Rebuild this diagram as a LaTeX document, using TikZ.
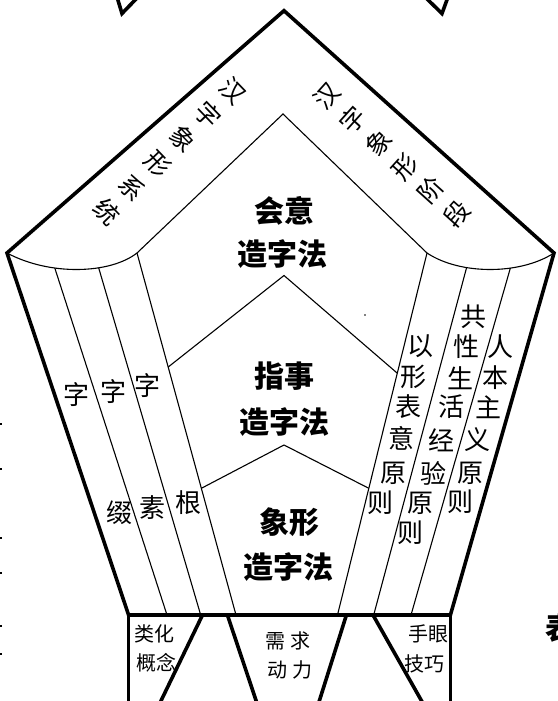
\documentclass[tikz,border=0pt]{standalone}
\usepackage{fontspec}
\newfontfamily\cjk{Noto Sans CJK SC}
\begin{document}
\begin{tikzpicture}[x=1pt,y=-1pt,
  outer/.style={line width=3.6pt, line join=miter},
  inner/.style={line width=1.1pt},
  ctr/.style={font=\cjk\bfseries\fontsize{30}{30}\selectfont, inner sep=0pt},
  colch/.style={font=\cjk\fontsize{26}{26}\selectfont, inner sep=0pt},
  roof/.style={font=\cjk\fontsize{25}{35}\selectfont, inner sep=0pt, align=center},
  boxtxt/.style={font=\cjk\fontsize{20}{20}\selectfont, inner sep=0pt}]
\useasboundingbox (0,0) rectangle (557,701);
\fill[white] (0,0) rectangle (557,701);
\clip (0,0) rectangle (557,701);
% main points
\coordinate (apex) at (284,10.7);
\coordinate (LC) at (7,253);
\coordinate (RC) at (554,253);
\coordinate (BL) at (128.6,615);
\coordinate (BR) at (450.4,615);
\coordinate (IL) at (137,253);
\coordinate (IR) at (427,253);
\coordinate (IA) at (283,114);
\coordinate (MA) at (284,275.5);
\coordinate (NA) at (284,445);
\coordinate (L1b) at (167,615);
\coordinate (L2b) at (200.7,615);
\coordinate (L3b) at (236,615);
\coordinate (R3b) at (337.5,615);
\coordinate (R2b) at (373.7,615);
\coordinate (R1b) at (411,615);
% caps and top chevron
\draw[inner] (LC) .. controls (50,276) and (110,274) .. (IL)
  coordinate[pos=0.34] (L1t) coordinate[pos=0.65] (L2t);
\draw[inner] (IL) -- (IA) -- (IR);
\draw[inner] (IR) .. controls (460,275) and (520,275) .. (RC)
  coordinate[pos=0.33] (R2t) coordinate[pos=0.645] (R1t);
% column lines
\draw[inner] (L1t) -- (L1b);
\draw[inner] (L2t) -- (L2b);
\draw[inner] (IL) -- (L3b);
\draw[inner] (IR) -- (R3b);
\draw[inner] (R2t) -- (R2b);
\draw[inner] (R1t) -- (R1b);
% chevrons
\path (IL) -- (L3b) coordinate[pos=0.315] (M1) coordinate[pos=0.65] (N1);
\path (IR) -- (R3b) coordinate[pos=0.332] (M2) coordinate[pos=0.65] (N2);
\draw[inner] (M1) -- (MA) -- (M2);
\draw[inner] (N1) -- (NA) -- (N2);
% outer pentagon
\draw[outer] (BL) -- (LC) -- (apex) -- (RC) -- (BR) -- cycle;
% bottom boxes
\coordinate (b1l) at (128.6,720);
\coordinate (b1rt) at (202.5,615); \coordinate (b1rb) at (151.7,720);
\coordinate (b2lt) at (227.4,615); \coordinate (b2lb) at (262.6,720);
\coordinate (b2rt) at (346.4,615); \coordinate (b2rb) at (313.3,720);
\coordinate (b3lt) at (373,615); \coordinate (b3lb) at (432.4,720);
\coordinate (b3r) at (450.4,720);
\draw[outer] (BL) -- (b1l);
\draw[outer] (b1rt) -- (b1rb);
\draw[outer] (b2lt) -- (b2lb);
\draw[outer] (b2rt) -- (b2rb);
\draw[outer] (b3lt) -- (b3lb);
\draw[outer] (BR) -- (b3r);
% top marks
\coordinate (tm1) at (122,13.5);
\coordinate (tm2) at (442,13.5);
\draw[outer] (117,-3) -- (tm1) -- (138,-3);
\draw[outer] (425,-3) -- (tm2) -- (448,-3);
% centre labels
\node[ctr] (t1a) at (284,211) {会意};
\node[ctr] (t1b) at (282,254) {造字法};
\node[ctr] (t2a) at (284,376) {指事};
\node[ctr] (t2b) at (284,422) {造字法};
\node[ctr] (t3a) at (289.5,522) {象形};
\node[ctr] (t3b) at (288,567) {造字法};
% roof texts
\node[roof, rotate=-46] (lt) at (170,151.5) {汉\\字\\象\\形\\系\\统};
\node[roof, rotate=48] (rt) at (391.7,155) {汉\\字\\象\\形\\阶\\段};
% left columns
\foreach \c/\x/\y [count=\i] in {字/76/395, 字/113.4/391.6, 字/147.4/386,
  缀/119/513, 素/152.8/508, 根/188/502.6}
  \node[colch] (lc\i) at (\x,\y) {\c};
% right columns
\foreach \c/\x/\y [count=\i] in {以/420/346.7, 形/413/376.7, 表/408/406.7,
  意/401.7/438, 原/393/473, 则/380/503}
  \node[colch] (ra\i) at (\x,\y) {\c};
\foreach \c/\x/\y [count=\i] in {共/473/316.7, 性/466.7/346.7, 生/460/378,
  活/451.7/406.7, 经/441.7/440, 验/433/473, 原/420/503, 则/410/533}
  \node[colch] (rb\i) at (\x,\y) {\c};
\foreach \c/\x/\y [count=\i] in {人/500/347, 本/495/378, 主/488/407,
  义/477/440, 原/470/473, 则/460/502}
  \node[colch] (rc\i) at (\x,\y) {\c};
% box texts
\node[boxtxt] (b1a) at (154.5,634) {类化};
\node[boxtxt] (b1b) at (156.3,662.5) {概念};
\node[boxtxt] (b2a) at (287.7,641) {需\hspace{5pt}求};
\node[boxtxt] (b2b) at (289.5,669.6) {动\hspace{5pt}力};
\node[boxtxt] (b3a) at (428,634) {手眼};
\node[boxtxt] (b3b) at (424.5,664) {技巧};
% cut-off text at the right edge, as in the reference
\node[ctr] (edge) at (560,628) {表};
% marks at the left edge
\foreach \y in {423,468,537,572,625,653}
  \fill (0,\y) rectangle (2.2,\y+1.6);
\fill (365,315) circle (0.9);
\end{tikzpicture}
\end{document}
